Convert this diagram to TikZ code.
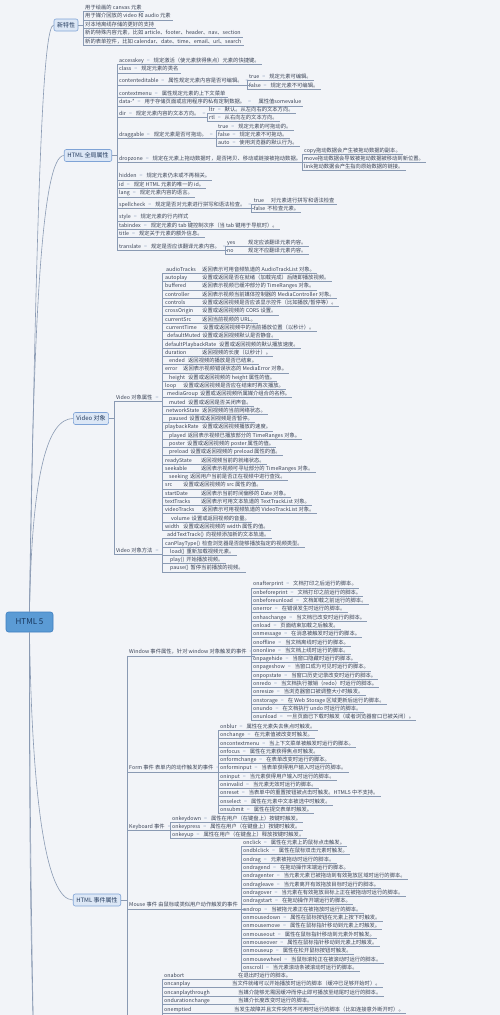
\documentclass[tikz,border=0pt]{standalone}
\usepackage{fontspec}
\setmainfont{Noto Sans CJK SC}
\definecolor{bgc}{HTML}{F2F4F8}
\definecolor{linec}{HTML}{8A9AB3}
\definecolor{rootf}{HTML}{5B9BD5}
\definecolor{rootd}{HTML}{3F7FC0}
\definecolor{roott}{HTML}{17365D}
\definecolor{brf}{HTML}{DCE7F6}
\definecolor{brd}{HTML}{7FA3D6}
\definecolor{brt}{HTML}{243B5E}
\definecolor{leafc}{HTML}{3B4457}
\definecolor{eqc}{HTML}{A3B3CB}
\newlength\mmw
\newcommand\eqm{\textcolor{eqc}{=}}
\newcommand\mmnd[2]{#1\hspace{3pt}\eqm\hspace{4pt}#2}
\newcommand\mmgap[3]{\settowidth\mmw{#2\hspace{2pt}}\ifdim\mmw<#1pt\mmw=#1pt\fi\makebox[\mmw][l]{#2}#3}
\newcommand\mmtail{\hspace{3pt}\eqm}
\newcommand\mmleaf[4]{\node[leaf] (#1) at (#2,#3) {#4};\draw[ul] (#1.south west) -- (#1.south east);}
\newcommand\mmvp[6]{\mmleaf{#1}{162}{270+8.29*#2}{\hspace{#3pt}\mmgap{#4}{#5}{#6}}}
\tikzset{
  leaf/.style={anchor=west, inner xsep=2pt, inner ysep=0.6pt, text height=3.9pt, text depth=1.1pt,
    font=\fontsize{5.3}{6}\selectfont, text=leafc},
  ul/.style={draw=linec, line width=0.45pt},
  br/.style={draw=linec, line width=0.45pt},
  conn/.style={draw=linec, line width=0.6pt},
  branch/.style={draw=brd, fill=brf, rounded corners=2pt, line width=0.6pt, inner xsep=3pt, inner ysep=1.5pt,
    minimum height=12pt, font=\fontsize{6}{7}\selectfont, text=brt},
  rootnode/.style={draw=rootd, fill=rootf, rounded corners=2.5pt, line width=0.6pt, minimum width=47pt,
    minimum height=20pt, font=\fontsize{8}{9}\selectfont, text=roott}
}
\begin{document}
\begin{tikzpicture}[x=1pt,y=-1pt]
\useasboundingbox (0,0) rectangle (500,1015);
\fill[bgc] (0,0) rectangle (500,1015);
\clip (0,0) rectangle (500,1015);

% ---------- root and main branches
\node[rootnode] (root) at (29.5,622) {HTML 5};
\node[branch] (nf) at (66,25) {新特性};
\node[branch] (ga) at (88,155.5) {HTML 全局属性};
\node[branch] (vid) at (91,418.5) {Video 对象};
\node[branch] (ev) at (97,900) {HTML 事件属性};
\coordinate (offa) at (45,1250);
\coordinate (offb) at (50,1500);

\draw[conn] (root.north) .. controls (37,180) and (43,25) .. (nf.west);
\draw[conn] (root.north) .. controls (33,320) and (42,155.5) .. (ga.west);
\draw[conn] (root.north) .. controls (32,470) and (48,418.5) .. (vid.west);
\draw[conn] (root.south) .. controls (32,800) and (46,900) .. (ev.west);
\draw[conn] (root.south) .. controls (29,900) and (32,1100) .. (offa);
\draw[conn] (root.south) .. controls (30,950) and (36,1250) .. (offb);

% ---------- 新特性
\mmleaf{nf1}{83}{8}{用于绘画的 canvas 元素}
\mmleaf{nf2}{83}{16.5}{用于媒介回放的 video 和 audio 元素}
\mmleaf{nf3}{83}{25}{对本地离线存储的更好的支持}
\mmleaf{nf4}{83}{33.5}{新的特殊内容元素，比如 article、footer、header、nav、section}
\mmleaf{nf5}{83}{42}{新的表单控件，比如 calendar、date、time、email、url、search}
\draw[br] (nf.east) -- (nf.east -| nf1.south west);
\draw[br] (nf1.south west) -- (nf5.south west);

% ---------- HTML 全局属性
\mmleaf{acc}{117}{61}{\mmnd{accesskey}{规定激活（使元素获得焦点）元素的快捷键。}}
\mmleaf{cls}{117}{69.5}{\mmnd{class}{规定元素的类名}}
\mmleaf{ced}{117}{81.5}{\mmnd{contenteditable}{属性规定元素内容是否可编辑。}\mmtail}
\mmleaf{cm}{117}{94}{\mmnd{contextmenu}{属性规定元素的上下文菜单}}
\mmleaf{dat}{117}{102.5}{\mmnd{data-*}{用于存储页面或应用程序的私有定制数据。}\mmtail}
\mmleaf{dir}{117}{114}{\mmnd{dir}{规定元素内容的文本方向。}\mmtail}
\mmleaf{drg}{117}{135}{\mmnd{draggable}{规定元素是否可拖动。}\mmtail}
\mmleaf{drz}{117}{159}{\mmnd{dropzone}{规定在元素上拖动数据时，是否拷贝、移动或链接被拖动数据。}\mmtail}
\mmleaf{hid}{117}{176.5}{\mmnd{hidden}{规定元素仍未或不再相关。}}
\mmleaf{idn}{117}{185}{\mmnd{id}{规定 HTML 元素的唯一的 id。}}
\mmleaf{lng}{117}{193.5}{\mmnd{lang}{规定元素内容的语言。}}
\mmleaf{spc}{117}{205}{\mmnd{spellcheck}{规定是否对元素进行拼写和语法检查。}\mmtail}
\mmleaf{sty}{117}{217.5}{\mmnd{style}{规定元素的行内样式}}
\mmleaf{tab}{117}{226}{\mmnd{tabindex}{规定元素的 tab 键控制次序（当 tab 键用于导航时）。}}
\mmleaf{tit}{117}{234}{\mmnd{title}{规定关于元素的额外信息。}}
\mmleaf{trn}{117}{247}{\mmnd{translate}{规定是否应该翻译元素内容。}\mmtail}
\draw[br] (ga.east) -- (ga.east -| acc.south west);
\draw[br] (acc.south west) -- (trn.south west);

\mmleaf{cedt}{247}{77.3}{\mmnd{true}{规定元素可编辑。}}
\mmleaf{cedf}{247}{85.7}{\mmnd{false}{规定元素不可编辑。}}
\draw[br] (ced.south east) -- (ced.south east -| cedt.south west);
\draw[br] (cedt.south west) -- (cedf.south west);

\node[leaf, anchor=south west] (datv) at ([xshift=3pt]dat.south east) {属性值somevalue};
\draw[ul] (dat.south east) -- (datv.south east);

\mmleaf{ltr}{207}{109.8}{\mmnd{ltr}{默认。从左向右的文本方向。}}
\mmleaf{rtl}{207}{118.2}{\mmnd{rtl}{从右向左的文本方向。}}
\draw[br] (dir.south east) -- (dir.south east -| ltr.south west);
\draw[br] (ltr.south west) -- (rtl.south west);

\mmleaf{drgt}{216}{126.7}{\mmnd{true}{规定元素的可拖动的。}}
\mmleaf{drgf}{216}{135}{\mmnd{false}{规定元素不可拖动。}}
\mmleaf{drga}{216}{143.3}{\mmnd{auto}{使用浏览器的默认行为。}}
\draw[br] (drg.south east) -- (drg.south east -| drgt.south west);
\draw[br] (drgt.south west) -- (drga.south west);

\mmleaf{dzc}{302}{150.7}{copy拖动数据会产生被拖动数据的副本。}
\mmleaf{dzm}{302}{159}{move拖动数据会导致被拖动数据被移动到新位置。}
\mmleaf{dzl}{302}{167.3}{link拖动数据会产生指向原始数据的链接。}
\draw[br] (drz.south east) -- (drz.south east -| dzc.south west);
\draw[br] (dzc.south west) -- (dzl.south west);

\mmleaf{spt}{251.7}{200.8}{\mmgap{17}{true}{对元素进行拼写和语法检查}}
\mmleaf{spf}{251.7}{209.2}{\mmgap{10}{false}{不检查元素。}}
\draw[br] (spc.south east) -- (spc.south east -| spt.south west);
\draw[br] (spt.south west) -- (spf.south west);

\mmleaf{try}{225}{242.8}{\mmgap{21}{yes}{规定应该翻译元素内容。}}
\mmleaf{trno}{225}{251.2}{\mmgap{21}{no}{规定不应翻译元素内容。}}
\draw[br] (trn.south east) -- (trn.south east -| try.south west);
\draw[br] (try.south west) -- (trno.south west);

% ---------- Video 对象
\mmleaf{vp}{114}{398}{Video 对象属性\mmtail}
\mmleaf{vm}{114}{551}{Video 对象方法\mmtail}
\draw[br] (vid.east) -- (vid.east -| vp.south west);
\draw[br] (vp.south west) -- (vm.south west);

\mmvp{p0}{0}{2}{36}{audioTracks}{返回表示可用音频轨道的 AudioTrackList 对象。}
\mmvp{p1}{1}{1}{37}{autoplay}{设置或返回是否在就绪（加载完成）后随即播放视频。}
\mmvp{p2}{2}{1}{37}{buffered}{返回表示视频已缓冲部分的 TimeRanges 对象。}
\mmvp{p3}{3}{1}{37}{controller}{返回表示视频当前媒体控制器的 MediaController 对象。}
\mmvp{p4}{4}{1}{37}{controls}{设置或返回视频是否应该显示控件（比如播放/暂停等）。}
\mmvp{p5}{5}{1}{37}{crossOrigin}{设置或返回视频的 CORS 设置。}
\mmvp{p6}{6}{1}{37}{currentSrc}{返回当前视频的 URL。}
\mmvp{p7}{7}{2}{37}{currentTime}{设置或返回视频中的当前播放位置（以秒计）。}
\mmvp{p8}{8}{3}{35}{defaultMuted}{设置或返回视频默认是否静音。}
\mmvp{p9}{9}{1}{54}{defaultPlaybackRate}{设置或返回视频的默认播放速度。}
\mmvp{p10}{10}{1}{37}{duration}{返回视频的长度（以秒计）。}
\mmvp{p11}{11}{5}{19}{ended}{返回视频的播放是否已结束。}
\mmvp{p12}{12}{1}{18}{error}{返回表示视频错误状态的 MediaError 对象。}
\mmvp{p13}{13}{5}{19}{height}{设置或返回视频的 height 属性的值。}
\mmvp{p14}{14}{1}{18}{loop}{设置或返回视频是否应在结束时再次播放。}
\mmvp{p15}{15}{3}{26}{mediaGroup}{设置或返回视频所属媒介组合的名称。}
\mmvp{p16}{16}{5}{19}{muted}{设置或返回是否关闭声音。}
\mmvp{p17}{17}{2}{36}{networkState}{返回视频的当前网络状态。}
\mmvp{p18}{18}{5}{18}{paused}{设置或返回视频是否暂停。}
\mmvp{p19}{19}{1}{37}{playbackRate}{设置或返回视频播放的速度。}
\mmvp{p20}{20}{5}{18}{played}{返回表示视频已播放部分的 TimeRanges 对象。}
\mmvp{p21}{21}{5}{18}{poster}{设置或返回视频的 poster 属性的值。}
\mmvp{p22}{22}{5}{18}{preload}{设置或返回视频的 preload 属性的值。}
\mmvp{p23}{23}{1}{36}{readyState}{返回视频当前的就绪状态。}
\mmvp{p24}{24}{1}{36}{seekable}{返回表示视频可寻址部分的 TimeRanges 对象。}
\mmvp{p25}{25}{5}{18}{seeking}{返回用户当前是否正在视频中进行查找。}
\mmvp{p26}{26}{1}{18}{src}{设置或返回视频的 src 属性的值。}
\mmvp{p27}{27}{1}{36}{startDate}{返回表示当前时间偏移的 Date 对象。}
\mmvp{p28}{28}{1}{36}{textTracks}{返回表示可用文本轨道的 TextTrackList 对象。}
\mmvp{p29}{29}{1}{37}{videoTracks}{返回表示可用视频轨道的 VideoTrackList 对象。}
\mmvp{p30}{30}{7}{16}{volume}{设置或返回视频的音量。}
\mmvp{p31}{31}{1}{18}{width}{设置或返回视频的 width 属性的值。}
\draw[br] (vp.south east) -- (vp.south east -| p0.south west);
\draw[br] (p0.south west) -- (p31.south west);

\mmleaf{m1}{162}{535.3}{\hspace{3pt}\mmgap{29}{addTextTrack()}{向视频添加新的文本轨道。}}
\mmleaf{m2}{162}{543.6}{\hspace{1pt}\mmgap{28}{canPlayType()}{检查浏览器是否能够播放指定的视频类型。}}
\mmleaf{m3}{162}{551.9}{\hspace{6pt}\mmgap{9}{load()}{重新加载视频元素。}}
\mmleaf{m4}{162}{560.2}{\hspace{6pt}\mmgap{9}{play()}{开始播放视频。}}
\mmleaf{m5}{162}{568.5}{\hspace{6pt}\mmgap{9}{pause()}{暂停当前播放的视频。}}
\draw[br] (vm.south east) -- (vm.south east -| m1.south west);
\draw[br] (m1.south west) -- (m5.south west);

% ---------- HTML 事件属性
\coordinate (evend) at (127,1100);
\mmleaf{win}{127}{652.5}{Window 事件属性，针对 window 对象触发的事件\mmtail}
\mmleaf{frm}{127}{768.5}{Form 事件 表单内的动作触发的事件\mmtail}
\mmleaf{kbd}{127}{827}{Keyboard 事件\mmtail}
\mmleaf{mse}{127}{905.5}{Mouse 事件 由鼠标或类似用户动作触发的事件\mmtail}
\draw[br] (ev.east) -- (ev.east -| win.south west);
\draw[br] (win.south west) -- (evend);

\mmleaf{w1}{251}{584.5}{\mmnd{onafterprint}{文档打印之后运行的脚本。}}
\mmleaf{w2}{251}{592.8}{\mmnd{onbeforeprint}{文档打印之前运行的脚本。}}
\mmleaf{w3}{251}{601.1}{\mmnd{onbeforeunload}{文档卸载之前运行的脚本。}}
\mmleaf{w4}{251}{609.4}{\mmnd{onerror}{在错误发生时运行的脚本。}}
\mmleaf{w5}{251}{617.7}{\mmnd{onhaschange}{当文档已改变时运行的脚本。}}
\mmleaf{w6}{251}{626.0}{\mmnd{onload}{页面结束加载之后触发。}}
\mmleaf{w7}{251}{634.3}{\mmnd{onmessage}{在消息被触发时运行的脚本。}}
\mmleaf{w8}{251}{642.6}{\mmnd{onoffline}{当文档离线时运行的脚本。}}
\mmleaf{w9}{251}{650.9}{\mmnd{ononline}{当文档上线时运行的脚本。}}
\mmleaf{w10}{251}{659.2}{\mmnd{onpagehide}{当窗口隐藏时运行的脚本。}}
\mmleaf{w11}{251}{667.5}{\mmnd{onpageshow}{当窗口成为可见时运行的脚本。}}
\mmleaf{w12}{251}{675.8}{\mmnd{onpopstate}{当窗口历史记录改变时运行的脚本。}}
\mmleaf{w13}{251}{684.1}{\mmnd{onredo}{当文档执行撤销（redo）时运行的脚本。}}
\mmleaf{w14}{251}{692.4}{\mmnd{onresize}{当浏览器窗口被调整大小时触发。}}
\mmleaf{w15}{251}{700.7}{\mmnd{onstorage}{在 Web Storage 区域更新后运行的脚本。}}
\mmleaf{w16}{251}{709.0}{\mmnd{onundo}{在文档执行 undo 时运行的脚本。}}
\mmleaf{w17}{251}{717.3}{\mmnd{onunload}{一旦页面已下载时触发（或者浏览器窗口已被关闭）。}}
\draw[br] (win.south east) -- (win.south east -| w1.south west);
\draw[br] (w1.south west) -- (w17.south west);

\mmleaf{f1}{218}{727}{\mmnd{onblur}{属性在元素失去焦点时触发。}}
\mmleaf{f2}{218}{735.3}{\mmnd{onchange}{在元素值被改变时触发。}}
\mmleaf{f3}{218}{743.6}{\mmnd{oncontextmenu}{当上下文菜单被触发时运行的脚本。}}
\mmleaf{f4}{218}{751.9}{\mmnd{onfocus}{属性在元素获得焦点时触发。}}
\mmleaf{f5}{218}{760.2}{\mmnd{onformchange}{在表单改变时运行的脚本。}}
\mmleaf{f6}{218}{768.5}{\mmnd{onforminput}{当表单获得用户输入时运行的脚本。}}
\mmleaf{f7}{218}{776.8}{\mmnd{oninput}{当元素获得用户输入时运行的脚本。}}
\mmleaf{f8}{218}{785.1}{\mmnd{oninvalid}{当元素无效时运行的脚本。}}
\mmleaf{f9}{218}{793.4}{\mmnd{onreset}{当表单中的重置按钮被点击时触发。HTML5 中不支持。}}
\mmleaf{f10}{218}{801.7}{\mmnd{onselect}{属性在元素中文本被选中时触发。}}
\mmleaf{f11}{218}{810.0}{\mmnd{onsubmit}{属性在提交表单时触发。}}
\draw[br] (frm.south east) -- (frm.south east -| f1.south west);
\draw[br] (f1.south west) -- (f11.south west);

\mmleaf{k1}{170}{818.7}{\mmnd{onkeydown}{属性在用户（在键盘上）按键时触发。}}
\mmleaf{k2}{170}{827}{\mmnd{onkeypress}{属性在用户（在键盘上）按键时触发。}}
\mmleaf{k3}{170}{835.3}{\mmnd{onkeyup}{属性在用户（在键盘上）释放按键时触发。}}
\draw[br] (kbd.south east) -- (kbd.south east -| k1.south west);
\draw[br] (k1.south west) -- (k3.south west);

\mmleaf{ms1}{241}{843}{\mmnd{onclick}{属性在元素上的鼠标点击触发。}}
\mmleaf{ms2}{241}{851.3}{\mmnd{ondblclick}{属性在鼠标双击元素时触发。}}
\mmleaf{ms3}{241}{859.7}{\mmnd{ondrag}{元素被拖动时运行的脚本。}}
\mmleaf{ms4}{241}{868.0}{\mmnd{ondragend}{在拖动操作末端运行的脚本。}}
\mmleaf{ms5}{241}{876.3}{\mmnd{ondragenter}{当元素元素已被拖动到有效拖放区域时运行的脚本。}}
\mmleaf{ms6}{241}{884.7}{\mmnd{ondragleave}{当元素离开有效拖放目标时运行的脚本。}}
\mmleaf{ms7}{241}{893.0}{\mmnd{ondragover}{当元素在有效拖放目标上正在被拖动时运行的脚本。}}
\mmleaf{ms8}{241}{901.3}{\mmnd{ondragstart}{在拖动操作开端运行的脚本。}}
\mmleaf{ms9}{241}{909.6}{\mmnd{ondrop}{当被拖元素正在被拖放时运行的脚本。}}
\mmleaf{ms10}{241}{918.0}{\mmnd{onmousedown}{属性在鼠标按钮在元素上按下时触发。}}
\mmleaf{ms11}{241}{926.3}{\mmnd{onmousemove}{属性在鼠标指针移动到元素上时触发。}}
\mmleaf{ms12}{241}{934.6}{\mmnd{onmouseout}{属性在鼠标指针移动到元素外时触发。}}
\mmleaf{ms13}{241}{943.0}{\mmnd{onmouseover}{属性在鼠标指针移动到元素上时触发。}}
\mmleaf{ms14}{241}{951.3}{\mmnd{onmouseup}{属性在松开鼠标按钮时触发。}}
\mmleaf{ms15}{241}{959.6}{\mmnd{onmousewheel}{当鼠标滚轮正在被滚动时运行的脚本。}}
\mmleaf{ms16}{241}{968.0}{\mmnd{onscroll}{当元素滚动条被滚动时运行的脚本。}}
\draw[br] (mse.south east) -- (mse.south east -| ms1.south west);
\draw[br] (ms1.south west) -- (ms16.south west);

\coordinate (mdend) at (162,1040);
\mmleaf{md1}{162}{976}{\mmgap{74}{onabort}{在退出时运行的脚本。}}
\mmleaf{md2}{162}{984.4}{\mmgap{68}{oncanplay}{当文件就绪可以开始播放时运行的脚本（缓冲已足够开始时）。}}
\mmleaf{md3}{162}{992.8}{\mmgap{74}{oncanplaythrough}{当媒介能够无需因缓冲而停止即可播放至结尾时运行的脚本。}}
\mmleaf{md4}{162}{1001.2}{\mmgap{74}{ondurationchange}{当媒介长度改变时运行的脚本。}}
\mmleaf{md5}{162}{1009.6}{\mmgap{70}{onemptied}{当发生故障并且文件突然不可用时运行的脚本（比如连接意外断开时）。}}
\draw[br] (md1.south west) -- (mdend);
\end{tikzpicture}
\end{document}
